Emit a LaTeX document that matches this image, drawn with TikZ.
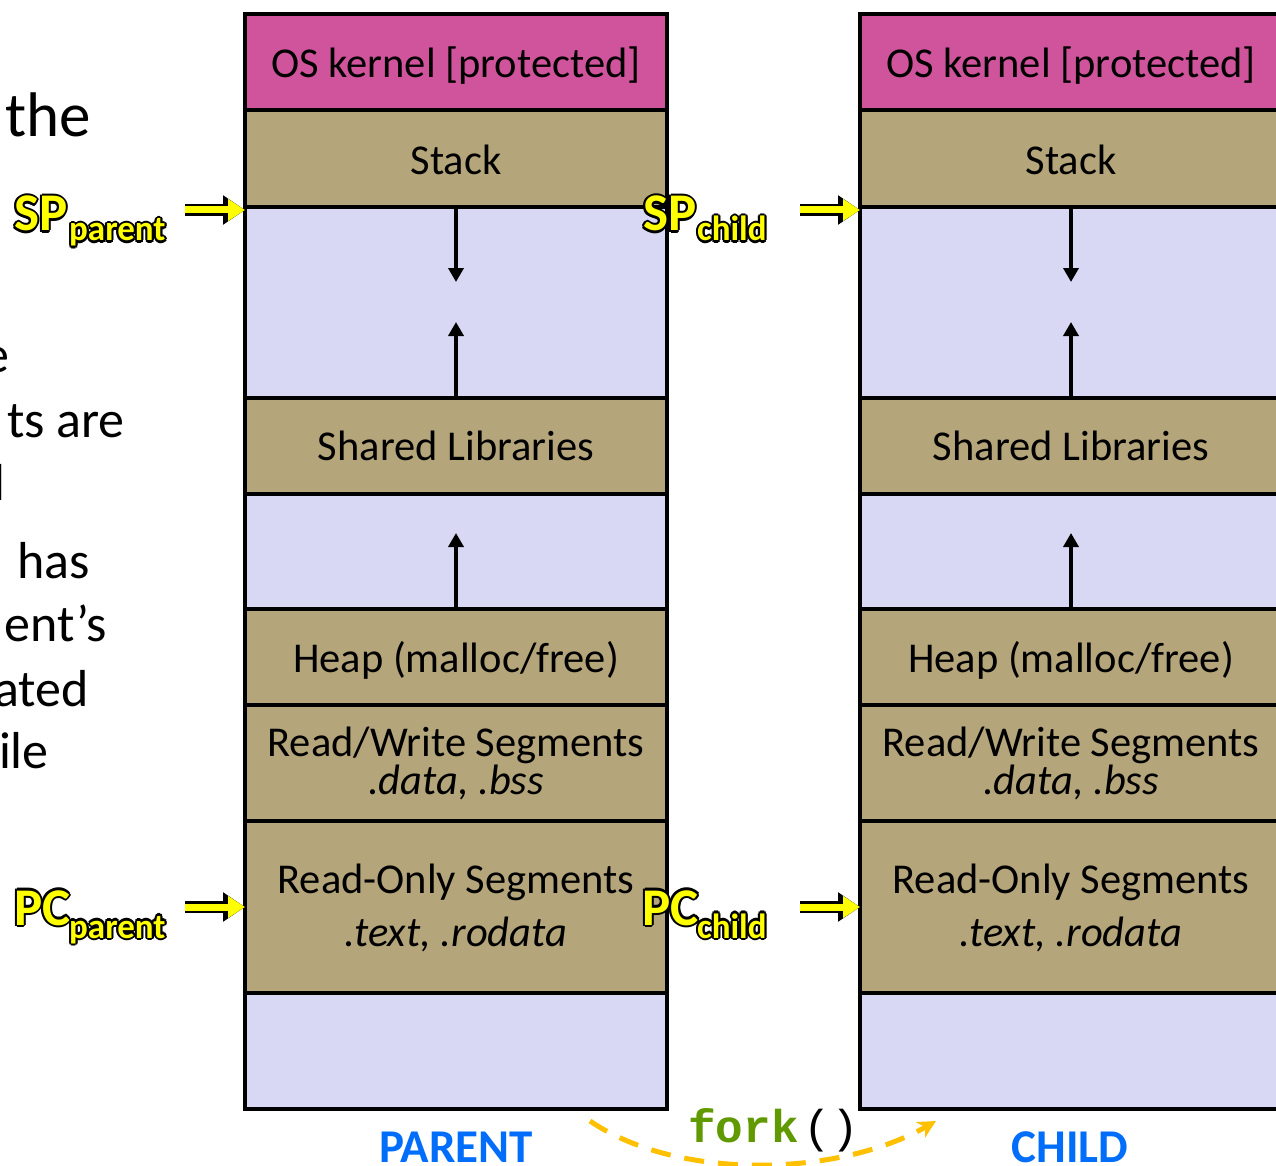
\documentclass[tikz,border=0pt]{standalone}
\usepackage{fontspec}
\setmainfont{Carlito}
\newfontfamily\monof{Liberation Mono}
\usetikzlibrary{arrows.meta}
\definecolor{kern}{RGB}{208,84,156}
\definecolor{tanseg}{RGB}{180,165,122}
\definecolor{lav}{RGB}{216,216,244}
\definecolor{ylw}{RGB}{255,255,0}
\definecolor{forkg}{RGB}{96,153,0}
\definecolor{fblue}{RGB}{0,110,250}
\definecolor{dashor}{RGB}{255,192,0}

\newbox\outbox
\newcommand\ocp[2]{\rlap{\hspace*{#1}\raisebox{#2}{\copy\outbox}}}
\newcommand\outl[1]{\setbox\outbox\hbox{#1}{\color{black}%
  \ocp{2.2pt}{0pt}\ocp{-2.2pt}{0pt}\ocp{0pt}{2.2pt}\ocp{0pt}{-2.2pt}%
  \ocp{1.6pt}{1.6pt}\ocp{-1.6pt}{1.6pt}\ocp{1.6pt}{-1.6pt}\ocp{-1.6pt}{-1.6pt}}%
  {\color{ylw}\copy\outbox}}
\newcommand\lowr[2]{\raisebox{-#1}[\height][\depth]{#2}}

\tikzset{
  seg/.style={draw=black, line width=4.5pt, minimum width=422pt, inner sep=0pt,
    outer sep=0pt, anchor=north west, align=center,
    font=\fontsize{42.5pt}{45pt}\selectfont},
  darr/.style={line width=3.5pt, -{Triangle[length=14pt,width=15pt]}},
  yarrb/.style={line width=12pt, draw=black, -{Triangle[length=22pt,width=28pt]}},
  yarry/.style={line width=7pt, draw=ylw, -{Triangle[length=17pt,width=21pt]}},
  lefttxt/.style={font=\fontsize{52pt}{60pt}\selectfont, inner sep=0pt, anchor=base east},
  bigl/.style={font=\fontsize{53pt}{60pt}\selectfont\bfseries, inner sep=0pt, anchor=base west},
  subl/.style={font=\fontsize{35pt}{40pt}\selectfont\bfseries, inner sep=0pt, anchor=base west},
  proc/.style={font=\fontsize{47pt}{50pt}\selectfont\bfseries, text=fblue, inner sep=0pt, anchor=base},
  forkarr/.style={draw=dashor, line width=5pt, dash pattern=on 20pt off 14pt,
    -{Stealth[length=18pt,width=18pt]}}
}

\newcommand\memcol[2]{%
  \node[seg, fill=kern, minimum height=96pt] (#1-kern) at (#2,14) {\lowr{4pt}{OS kernel [protected]}};
  \node[seg, fill=tanseg, minimum height=97pt] (#1-stack) at (#1-kern.south west) {\lowr{1pt}{Stack}};
  \node[seg, fill=lav, minimum height=191pt] (#1-gap1) at (#1-stack.south west) {};
  \node[seg, fill=tanseg, minimum height=96pt] (#1-shlib) at (#1-gap1.south west) {Shared Libraries};
  \node[seg, fill=lav, minimum height=115pt] (#1-gap2) at (#1-shlib.south west) {};
  \node[seg, fill=tanseg, minimum height=96pt] (#1-heap) at (#1-gap2.south west) {\lowr{3pt}{Heap (malloc/free)}};
  \node[seg, fill=tanseg, minimum height=116pt] (#1-rw) at (#1-heap.south west) {Read/Write Segments\\[-7pt]\textit{.data, .bss}};
  \node[seg, fill=tanseg, minimum height=172pt] (#1-ro) at (#1-rw.south west) {\lowr{4pt}{\begin{tabular}{@{}c@{}}Read-Only Segments\\[8pt]\textit{.text, .rodata}\end{tabular}}};
  \node[seg, fill=lav, minimum height=116pt] (#1-gap3) at (#1-ro.south west) {};
  \draw[darr] (#1-gap1.north) -- ++(0,75);
  \draw[darr] (#1-shlib.north) -- ++(0,-76);
  \draw[darr] (#1-heap.north) -- ++(0,-76);
  \coordinate (#1-sp) at ([yshift=-3pt]#1-gap1.north west);
  \coordinate (#1-sps) at ([xshift=-60pt]#1-sp);
  \coordinate (#1-pc) at ([yshift=0pt]#1-ro.west);
  \coordinate (#1-pcs) at ([xshift=-60pt]#1-pc);
  \draw[yarrb] (#1-sps) -- (#1-sp);
  \draw[yarry] (#1-sps) -- (#1-sp);
  \draw[yarrb] (#1-pcs) -- (#1-pc);
  \draw[yarry] (#1-pcs) -- (#1-pc);
}

\begin{document}
\begin{tikzpicture}[x=1pt,y=-1pt]
\clip (0,0) rectangle (1276,1166);
\fill[white] (0,0) rectangle (1276,1166);

% left cropped text
\node[lefttxt, anchor=base west, font=\fontsize{63pt}{66pt}\selectfont] (t1) at (5,137) {the};
\node[lefttxt] (t2) at (10,372) {e};
\node[lefttxt] (t3) at (125,437) {ts are};
\node[lefttxt] (t4) at (6,500) {l};
\node[lefttxt] (t5) at (90,578) {has};
\node[lefttxt] (t6) at (107,641) {ent’s};
\node[lefttxt] (t7) at (89,706) {ated};
\node[lefttxt] (t8) at (49,768) {ile};

\memcol{p}{245}
\memcol{c}{860}

% SP / PC labels
\node[bigl] (spp) at (14,231) {\outl{SP}};
\node[subl] (sppsub) at (69,241) {\outl{parent}};
\node[bigl] (spc) at (643,231) {\outl{SP}};
\node[subl] (spcsub) at (697,241) {\outl{child}};
\node[bigl] (pcp) at (14,925) {\outl{PC}};
\node[subl] (pcpsub) at (69,938) {\outl{parent}};
\node[bigl] (pcc) at (642,925) {\outl{PC}};
\node[subl] (pccsub) at (697,938) {\outl{child}};

% labels
\node[proc] (parent) at (456,1162) {PARENT};
\node[proc] (child) at (1070,1162) {CHILD};

% fork
\node[inner sep=0pt, anchor=base west, font=\fontsize{46pt}{50pt}\selectfont\monof] (fork) at (688,1142)
  {\textcolor{forkg}{\bfseries fork}\kern5pt()};
\coordinate (fs) at (590,1121);
\coordinate (fe) at (936,1121);
\draw[forkarr] (fs) .. controls (680,1182) and (840,1176) .. (fe);
\end{tikzpicture}
\end{document}
